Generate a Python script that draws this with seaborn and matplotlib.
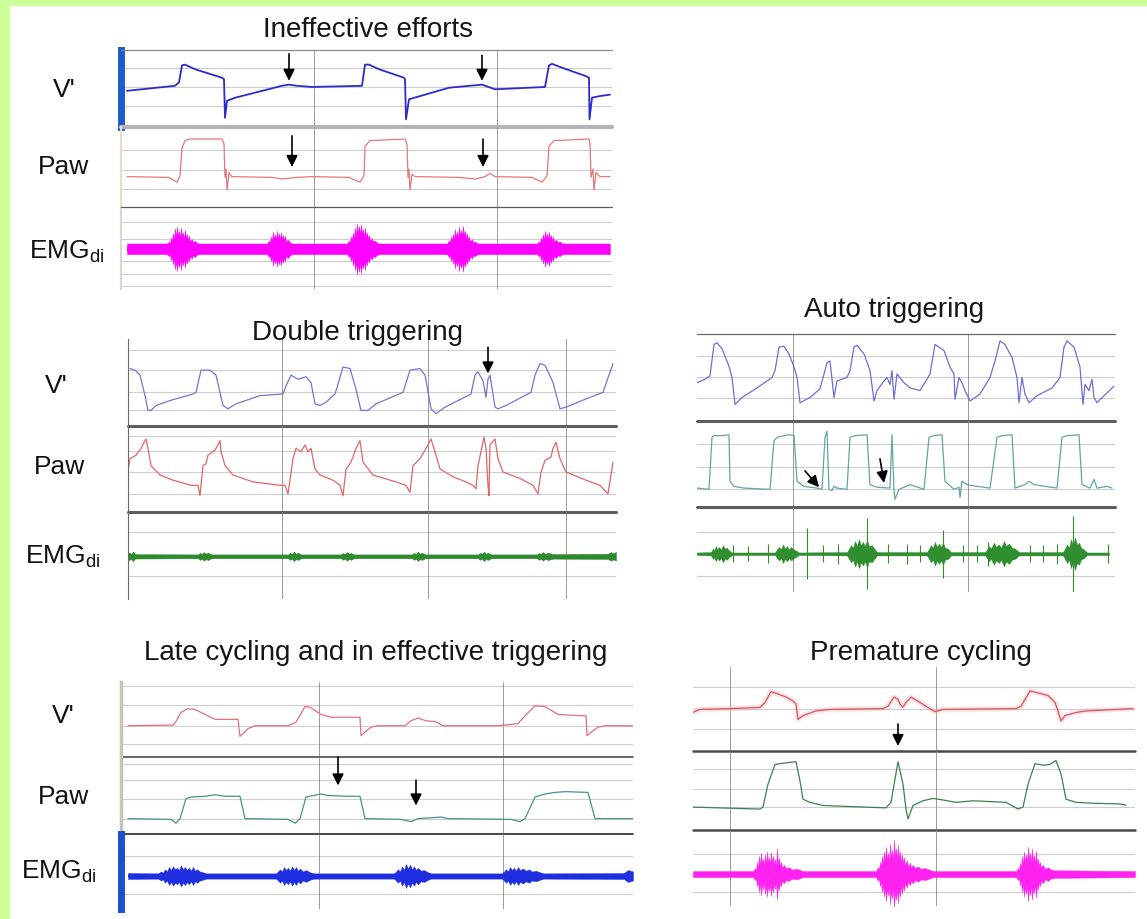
"""
Patient-ventilator asynchrony examples: flow (V'), airway pressure (Paw)
and diaphragm EMG traces for five asynchrony types.
Values were read off the reference tracings (t = samples across each panel,
y = strip units 0-10, EMG given as centre + envelope amplitude).
"""

import matplotlib
matplotlib.use("Agg")
import matplotlib.pyplot as plt
from matplotlib.patches import Rectangle
import pandas as pd
import seaborn as sns

W, H = 1147, 920

# ------------------------------------------------------------
# Panel 1 - Ineffective efforts
# ------------------------------------------------------------
P1_FLOW = [(0, 4.7), (48, 5.35), (52, 5.8), (55, 8.0), (58, 8.1), (68, 7.5), (95, 6.4),
           (97, 6.2), (98, 1.2), (100, 3.4), (108, 3.8), (155, 5.35), (162, 5.5),
           (170, 5.35), (185, 5.2), (235, 5.35), (238, 8.1), (242, 8.1), (252, 7.5),
           (277, 6.4), (278, 6.2), (279, 1.0), (282, 3.6), (322, 5.1), (355, 5.5),
           (368, 4.9), (418, 5.2), (422, 8.0), (425, 8.2), (435, 7.7), (458, 6.65),
           (462, 6.4), (462.5, 1.0), (465, 3.8), (472, 4.0), (483, 4.2)]
P1_PAW = [(0, 3.8), (42, 3.7), (50, 3.1), (53, 3.9), (55, 7.4), (58, 8.3), (63, 8.5),
          (95, 8.5), (97, 7.9), (98, 3.7), (99, 4.75), (100, 2.1), (102, 4.3), (105, 3.8),
          (145, 3.7), (155, 3.5), (170, 3.7), (185, 3.8), (222, 3.7), (233, 3.1),
          (237, 3.9), (238, 7.6), (243, 8.3), (278, 8.5), (280, 7.9), (281, 3.7),
          (282, 4.75), (283, 2.1), (285, 4.1), (288, 3.8), (332, 3.7), (348, 3.5),
          (358, 3.8), (363, 4.2), (368, 3.8), (405, 3.7), (415, 3.1), (420, 3.9),
          (422, 7.6), (427, 8.3), (462, 8.5), (463, 7.9), (464, 3.7), (466, 4.75),
          (467, 2.1), (469, 4.3), (473, 3.8), (483, 3.8)]
P1_EMG = [(0, 0.65), (40, 0.65), (42, 0.9), (43, 0.7), (44, 1.4), (45, 0.9), (46, 1.9),
          (47, 1.2), (48, 2.5), (49, 1.5), (50, 2.7), (51, 1.6), (52, 2.2), (53, 1.3),
          (54, 2.6), (55, 1.5), (56, 2.0), (57, 1.2), (58, 2.3), (59, 1.3), (60, 1.8),
          (61, 1.0), (62, 1.6), (63, 0.9), (65, 1.2), (66, 0.8), (68, 1.0), (70, 0.7),
          (72, 0.65), (140, 0.65), (142, 1.0), (143, 0.8), (144, 1.5), (145, 1.0),
          (146, 2.1), (147, 1.2), (148, 1.8), (149, 1.1), (150, 2.2), (151, 1.3),
          (152, 1.9), (153, 1.1), (154, 2.0), (155, 1.2), (156, 1.7), (157, 1.0),
          (158, 1.6), (159, 0.9), (161, 1.1), (163, 0.8), (165, 0.65), (220, 0.65),
          (222, 1.0), (223, 0.8), (224, 1.5), (225, 1.0), (226, 2.0), (227, 1.3),
          (228, 2.6), (229, 1.6), (230, 3.1), (231, 1.9), (232, 2.8), (233, 1.7),
          (234, 3.0), (235, 1.8), (236, 2.4), (237, 1.5), (238, 2.6), (239, 1.4),
          (240, 2.0), (241, 1.2), (242, 1.7), (243, 1.0), (245, 1.3), (246, 0.9),
          (248, 1.0), (250, 0.75), (252, 0.65), (320, 0.65), (322, 1.0), (323, 0.8),
          (324, 1.5), (325, 1.0), (326, 1.8), (327, 1.2), (328, 2.4), (329, 1.5),
          (330, 2.1), (331, 1.3), (332, 2.7), (333, 1.7), (334, 2.3), (335, 1.5),
          (336, 2.8), (337, 1.6), (338, 2.2), (339, 1.3), (340, 1.9), (341, 1.1),
          (342, 1.5), (343, 0.9), (345, 1.2), (346, 0.8), (348, 0.9), (350, 0.7),
          (352, 0.65), (410, 0.65), (412, 0.9), (413, 0.75), (414, 1.4), (415, 0.9),
          (416, 1.8), (417, 1.1), (418, 2.2), (419, 1.3), (420, 1.9), (421, 1.2),
          (422, 2.1), (423, 1.2), (424, 1.7), (425, 1.0), (426, 1.5), (427, 0.9),
          (429, 1.1), (431, 0.8), (433, 0.9), (435, 0.65), (483, 0.65)]
P1_ARROWS_FLOW = [(162, 9.5, 6.0), (355, 9.3, 6.0)]
P1_ARROWS_PAW = [(165, 8.9, 5.0), (356, 8.5, 5.0)]

# ------------------------------------------------------------
# Panel 2 - Double triggering
# ------------------------------------------------------------
P2_FLOW = [(2, 7.0), (7, 6.8), (12, 6.2), (17, 3.7), (20, 1.9), (23, 1.9), (28, 2.5),
           (42, 3.1), (65, 3.9), (68, 4.1), (73, 6.8), (82, 6.8), (88, 6.2), (95, 2.5),
           (100, 2.1), (108, 2.7), (132, 3.7), (155, 3.9), (158, 4.9), (163, 6.2),
           (170, 5.7), (178, 6.0), (183, 5.3), (187, 2.7), (192, 2.5), (198, 2.9),
           (207, 3.9), (210, 5.1), (215, 7.2), (222, 7.0), (228, 4.5), (233, 1.9),
           (240, 1.9), (248, 2.7), (275, 4.1), (282, 6.8), (292, 7.0), (297, 6.2),
           (303, 2.1), (308, 1.5), (317, 2.3), (343, 3.9), (347, 6.2), (350, 6.6),
           (355, 5.5), (358, 3.5), (360, 5.7), (362, 6.2), (367, 2.3), (370, 2.1),
           (378, 2.5), (403, 4.1), (407, 6.2), (412, 7.6), (417, 7.4), (425, 5.3),
           (432, 2.1), (438, 2.3), (458, 3.3), (475, 4.1), (485, 7.6)]
P2_PAW = [(0, 4.8), (2, 6.2), (8, 6.6), (13, 7.4), (18, 8.5), (20, 7.4), (23, 5.4),
          (32, 4.3), (45, 3.7), (63, 3.1), (70, 3.1), (72, 1.9), (75, 5.4), (78, 5.6),
          (80, 6.6), (87, 7.2), (92, 8.3), (93, 7.0), (97, 5.4), (105, 4.3), (125, 3.5),
          (152, 3.1), (157, 3.1), (160, 2.1), (165, 6.2), (168, 7.4), (173, 7.0),
          (177, 7.8), (180, 7.0), (183, 7.4), (187, 5.0), (192, 4.3), (205, 3.7),
          (212, 3.1), (215, 1.9), (218, 5.0), (222, 5.6), (225, 6.4), (228, 7.4),
          (232, 8.3), (235, 5.8), (245, 4.3), (268, 3.5), (278, 3.1), (282, 2.3),
          (285, 5.4), (292, 6.2), (300, 7.8), (303, 8.5), (307, 7.0), (312, 5.0),
          (325, 4.1), (338, 3.5), (345, 3.1), (348, 2.7), (350, 5.4), (353, 7.0),
          (356, 8.7), (358, 7.4), (360, 3.1), (361, 1.9), (362, 7.8), (367, 8.5),
          (370, 6.2), (375, 4.65), (392, 3.9), (405, 3.1), (410, 2.1), (413, 4.65),
          (417, 6.0), (423, 6.4), (425, 7.4), (428, 8.1), (432, 6.2), (438, 4.65),
          (458, 3.7), (472, 3.1), (480, 2.1), (485, 5.8)]
P2_EMG = [(0, 0.5), (3, 0.3), (5, 0.55), (7, 0.25), (70, 0.22), (72, 0.4), (74, 0.28),
          (76, 0.5), (78, 0.3), (80, 0.45), (82, 0.28), (84, 0.22), (160, 0.22),
          (162, 0.4), (164, 0.28), (166, 0.55), (168, 0.3), (170, 0.42), (173, 0.22),
          (213, 0.22), (215, 0.4), (217, 0.28), (219, 0.5), (221, 0.3), (223, 0.4),
          (226, 0.22), (284, 0.22), (286, 0.4), (288, 0.28), (290, 0.55), (292, 0.3),
          (294, 0.42), (297, 0.22), (350, 0.22), (352, 0.4), (354, 0.28), (356, 0.55),
          (358, 0.3), (360, 0.42), (363, 0.22), (409, 0.22), (411, 0.4), (413, 0.28),
          (415, 0.5), (417, 0.3), (420, 0.42), (425, 0.26), (480, 0.3), (483, 0.5),
          (485, 0.35), (488, 0.5)]
P2_ARROWS_FLOW = [(360, 9.6, 6.4)]

# ------------------------------------------------------------
# Panel 3 - Auto triggering
# ------------------------------------------------------------
P3_FLOW = [(0, 4.4), (8, 4.8), (13, 5.2), (17, 8.8), (20, 9.0), (25, 8.3), (32, 6.3),
           (35, 5.0), (38, 1.9), (45, 2.7), (60, 3.8), (75, 5.0), (78, 5.8), (82, 8.5),
           (87, 8.6), (92, 7.7), (97, 6.2), (100, 5.0), (103, 2.1), (113, 2.7),
           (123, 3.7), (127, 5.4), (130, 6.7), (133, 6.9), (137, 2.7), (140, 4.6),
           (150, 5.0), (153, 5.8), (157, 8.5), (160, 8.7), (167, 7.7), (173, 5.8),
           (177, 2.3), (180, 3.5), (187, 4.6), (190, 5.0), (193, 4.2), (195, 5.8),
           (197, 2.5), (200, 5.4), (207, 4.4), (213, 3.8), (223, 3.5), (233, 5.4),
           (238, 8.8), (247, 8.1), (253, 6.2), (257, 5.4), (258, 2.5), (262, 5.0),
           (265, 4.4), (268, 3.5), (273, 2.3), (283, 3.1), (293, 5.0), (298, 6.9),
           (303, 9.2), (308, 8.8), (315, 7.3), (320, 5.0), (322, 2.1), (325, 5.0),
           (328, 3.1), (332, 2.1), (340, 2.9), (355, 3.8), (363, 5.0), (367, 8.5),
           (370, 9.2), (377, 8.5), (383, 6.2), (386, 1.9), (388, 4.2), (392, 3.5),
           (395, 4.8), (397, 2.7), (400, 2.1), (407, 2.9), (417, 4.0)]
P3_PAW = [(0, 2.2), (12, 2.05), (15, 8.1), (17, 8.3), (25, 8.3), (32, 8.4), (33, 3.0),
          (37, 2.4), (47, 2.2), (73, 2.05), (77, 7.7), (80, 8.1), (87, 8.3), (92, 8.4),
          (97, 8.3), (100, 3.0), (107, 2.4), (120, 2.2), (125, 2.05), (128, 8.1),
          (130, 8.8), (132, 2.05), (135, 1.9), (137, 2.4), (140, 2.2), (150, 2.05),
          (153, 8.1), (158, 8.3), (170, 8.4), (173, 2.6), (180, 2.3), (193, 2.2),
          (195, 8.4), (197, 1.9), (198, 0.9), (202, 2.05), (213, 2.6), (227, 2.05),
          (232, 8.1), (237, 8.3), (245, 8.4), (248, 3.0), (257, 2.05), (262, 2.3),
          (263, 1.1), (265, 3.0), (270, 2.6), (280, 2.4), (293, 2.2), (300, 8.1),
          (305, 8.3), (315, 8.4), (318, 2.2), (328, 2.6), (332, 3.0), (337, 2.6),
          (360, 2.2), (365, 8.1), (370, 8.3), (382, 8.4), (385, 2.6), (393, 2.2),
          (397, 3.2), (400, 2.2), (410, 2.4), (415, 2.2)]
P3_EMG = [(0, 0.15), (14, 0.2), (16, 0.6), (17, 0.4), (19, 0.9), (20, 0.5), (22, 0.8),
          (24, 0.5), (26, 1.0), (28, 0.6), (30, 0.7), (32, 0.4), (35, 0.15), (78, 0.15),
          (80, 0.5), (82, 0.8), (84, 0.5), (86, 1.1), (88, 0.6), (90, 0.9), (92, 0.5),
          (94, 0.8), (97, 0.5), (100, 0.3), (102, 0.15), (150, 0.2), (152, 0.6),
          (154, 1.0), (156, 0.7), (158, 1.5), (160, 0.9), (162, 1.7), (164, 1.0),
          (166, 1.4), (168, 0.9), (170, 1.6), (172, 0.9), (175, 1.0), (178, 0.5),
          (180, 0.2), (230, 0.2), (232, 0.6), (234, 1.0), (236, 0.7), (238, 1.4),
          (240, 0.8), (242, 1.2), (244, 0.8), (246, 1.3), (248, 0.7), (251, 0.6),
          (254, 0.2), (288, 0.2), (290, 0.5), (292, 0.9), (294, 0.6), (297, 1.3),
          (299, 0.8), (302, 1.1), (304, 0.7), (307, 1.5), (309, 0.9), (312, 1.2),
          (315, 0.7), (318, 0.6), (322, 0.2), (366, 0.2), (368, 0.6), (370, 1.1),
          (372, 0.7), (374, 1.7), (376, 1.0), (378, 1.9), (380, 1.1), (382, 1.3),
          (384, 0.7), (387, 0.5), (390, 0.15), (412, 0.15)]
P3_SPIKES = [(36, 1.0), (51, 0.9), (71, 1.1), (110, 3.0), (126, 1.0), (141, 1.2),
             (170, 4.2), (191, 1.1), (210, 1.2), (223, 1.0), (246, 2.8), (266, 1.0),
             (280, 1.0), (291, 1.4), (333, 1.0), (346, 1.0), (360, 1.2), (376, 4.5),
             (411, 1.1)]
P3_ARROWS_PAW = [(108, 4.2, 122, 2.3), (183, 5.6, 187, 2.8)]

# ------------------------------------------------------------
# Panel 4 - Late cycling and ineffective triggering
# ------------------------------------------------------------
P4_FLOW = [(0, 4.4), (45, 4.5), (48, 5.0), (53, 6.3), (60, 6.8), (67, 6.7), (77, 6.0),
           (87, 5.3), (103, 5.3), (110, 5.3), (112, 2.9), (115, 3.3), (120, 4.0),
           (127, 4.4), (160, 4.4), (168, 4.9), (177, 7.1), (182, 7.0), (193, 6.0),
           (203, 5.6), (232, 5.6), (233, 3.0), (237, 3.5), (243, 4.2), (250, 4.4),
           (277, 4.4), (283, 5.1), (290, 5.5), (298, 5.1), (307, 5.0), (315, 4.4),
           (370, 4.4), (390, 4.7), (397, 5.8), (407, 7.2), (417, 7.1), (430, 6.0),
           (440, 5.9), (458, 5.8), (459, 3.0), (463, 3.5), (470, 4.2), (477, 4.4),
           (505, 4.4)]
P4_PAW = [(0, 2.0), (43, 1.9), (48, 1.4), (52, 2.0), (58, 4.6), (63, 4.8), (77, 4.9),
          (87, 5.1), (97, 4.9), (112, 4.9), (117, 2.0), (160, 1.9), (167, 1.4), (172, 2.0),
          (178, 4.8), (193, 5.2), (200, 5.0), (220, 4.9), (232, 4.9), (237, 2.0),
          (273, 1.9), (283, 1.6), (290, 2.0), (303, 2.1), (313, 2.2), (320, 2.0),
          (383, 1.9), (392, 1.6), (397, 2.0), (407, 4.8), (417, 5.2), (427, 5.4),
          (437, 5.5), (460, 5.4), (467, 2.0), (505, 2.0)]
P4_EMG = [(0, 0.4), (30, 0.35), (33, 0.6), (35, 0.45), (37, 0.9), (39, 0.6), (41, 1.2),
          (43, 0.8), (45, 1.3), (47, 0.9), (49, 1.1), (51, 0.8), (53, 1.4), (55, 0.9),
          (57, 1.2), (59, 0.8), (61, 1.1), (63, 0.7), (65, 1.2), (67, 0.7), (69, 0.9),
          (72, 0.6), (75, 0.5), (78, 0.35), (148, 0.35), (150, 0.6), (152, 0.9),
          (154, 0.6), (156, 1.2), (158, 0.8), (160, 1.1), (162, 0.7), (164, 1.3),
          (166, 0.8), (168, 1.2), (170, 0.7), (172, 1.0), (175, 0.6), (178, 0.8),
          (182, 0.5), (186, 0.35), (266, 0.35), (268, 0.6), (270, 0.9), (272, 0.6),
          (274, 1.3), (276, 0.8), (278, 1.6), (280, 1.0), (282, 1.5), (284, 0.9),
          (286, 1.3), (288, 0.8), (290, 1.1), (293, 0.7), (296, 0.8), (300, 0.5),
          (303, 0.35), (374, 0.35), (376, 0.6), (378, 0.9), (380, 0.6), (382, 1.2),
          (384, 0.8), (386, 1.1), (388, 0.7), (390, 1.2), (392, 0.8), (395, 1.0),
          (398, 0.7), (401, 0.9), (404, 0.6), (408, 0.7), (412, 0.5), (416, 0.35),
          (496, 0.4), (500, 0.8), (505, 0.6)]
P4_ARROWS_PAW = [(210, 10.0, 6.3), (288, 7.0, 3.7)]

# ------------------------------------------------------------
# Panel 5 - Premature cycling
# ------------------------------------------------------------
P5_FLOW = [(0, 5.0), (7, 5.4), (37, 5.5), (67, 5.65), (72, 6.3), (78, 7.7), (85, 7.4),
           (93, 7.0), (100, 6.5), (103, 6.1), (105, 4.1), (110, 4.6), (123, 5.2),
           (137, 5.4), (190, 5.5), (195, 5.8), (201, 7.0), (205, 6.7), (207, 6.1),
           (210, 5.7), (213, 6.3), (218, 7.0), (227, 6.3), (235, 5.65), (242, 5.1),
           (250, 5.4), (323, 5.5), (328, 5.8), (337, 7.8), (343, 7.6), (355, 7.2),
           (362, 6.3), (365, 5.2), (368, 3.9), (372, 4.6), (383, 5.0), (393, 5.2),
           (440, 5.5)]
P5_PAW = [(0, 2.9), (67, 2.65), (70, 2.9), (75, 5.8), (82, 8.3), (93, 8.5), (103, 8.65),
          (107, 6.2), (110, 3.9), (117, 3.5), (130, 3.1), (193, 2.8), (198, 3.5),
          (205, 8.65), (210, 5.8), (213, 2.65), (215, 1.4), (220, 3.1), (230, 3.7),
          (240, 4.0), (250, 3.8), (263, 3.5), (280, 3.7), (313, 3.5), (325, 2.65),
          (330, 2.9), (335, 5.8), (342, 8.4), (350, 8.2), (357, 8.3), (363, 8.8),
          (368, 7.1), (373, 3.9), (383, 3.5), (397, 3.4), (427, 3.3), (433, 3.15)]
P5_EMG = [(0, 0.4), (60, 0.4), (62, 0.8), (63, 0.5), (64, 1.6), (65, 0.9), (66, 2.4),
          (67, 1.2), (68, 2.8), (69, 1.5), (70, 2.0), (71, 1.1), (72, 2.6), (73, 1.4),
          (74, 3.0), (75, 1.6), (76, 2.2), (77, 1.3), (78, 2.9), (79, 1.5), (80, 2.4),
          (81, 1.2), (82, 2.0), (83, 1.0), (84, 3.4), (85, 1.4), (86, 2.1), (87, 1.1),
          (88, 1.6), (89, 0.9), (91, 1.2), (93, 0.8), (96, 0.9), (99, 0.6), (104, 0.7),
          (110, 0.4), (183, 0.4), (185, 0.9), (186, 0.6), (187, 1.6), (188, 1.0),
          (189, 2.4), (190, 1.4), (191, 3.0), (192, 1.8), (193, 3.6), (194, 2.0),
          (195, 2.8), (196, 1.6), (197, 4.0), (198, 2.2), (199, 3.2), (200, 1.8),
          (201, 4.6), (202, 2.4), (203, 3.4), (204, 1.9), (205, 3.9), (206, 2.0),
          (207, 3.0), (208, 1.6), (209, 2.6), (210, 1.4), (211, 2.2), (212, 1.2),
          (214, 1.8), (215, 1.0), (217, 1.5), (218, 0.9), (220, 1.2), (222, 0.8),
          (225, 1.0), (228, 0.7), (232, 0.8), (236, 0.6), (240, 0.4), (323, 0.4),
          (325, 0.8), (326, 0.5), (327, 1.5), (328, 0.9), (329, 2.4), (330, 1.3),
          (331, 3.0), (332, 1.7), (333, 2.6), (334, 1.5), (335, 3.6), (336, 1.9),
          (337, 2.8), (338, 1.6), (339, 3.4), (340, 1.8), (341, 2.5), (342, 1.4),
          (343, 3.1), (344, 1.5), (345, 2.0), (346, 1.1), (347, 1.6), (348, 0.9),
          (350, 1.2), (352, 0.7), (355, 0.9), (358, 0.6), (362, 0.5), (442, 0.4)]
P5_ARROWS_FLOW = [(205, 3.5, 0.65)]

TITLES = ["Ineffective efforts", "Double triggering", "Auto triggering",
          "Late cycling and in effective triggering", "Premature cycling"]
ROW_LABELS = ["V'", "Paw", "EMG$_{di}$"]


def pts(pairs, cols=("t", "y")):
    return pd.DataFrame(pairs, columns=list(cols))


def strip(fig, left, right, top, bottom, xlim, ylim=(0, 10)):
    ax = fig.add_axes([left / W, 1 - bottom / H, (right - left) / W, (bottom - top) / H])
    ax.set_xticks([])
    ax.set_yticks([])
    for s in ax.spines.values():
        s.set_visible(False)
    ax.patch.set_alpha(0)
    ax._lims = (xlim, ylim)
    return ax


def finish(ax, hgrid=(), vgrid=(), sep=None, top=None, bar=None):
    xlim, ylim = ax._lims
    for g in hgrid:
        ax.axhline(g, color="#cdcdcd", lw=0.8, zorder=0)
    for v in vgrid:
        ax.axvline(v, color="#8c8c8c", lw=0.6, zorder=0)
    if sep is not None:
        ax.axhline(ylim[0], color=sep[0], lw=sep[1], zorder=3, clip_on=False)
    if top is not None:
        ax.axhline(ylim[1], color=top[0], lw=top[1], zorder=3, clip_on=False)
    if bar is not None:
        ax.spines["left"].set_visible(True)
        ax.spines["left"].set_color(bar[0])
        ax.spines["left"].set_linewidth(bar[1])
    ax.set_xlim(*xlim)
    ax.set_ylim(*ylim)
    ax.set_xlabel("")
    ax.set_ylabel("")


def trace(ax, pairs, color, lw=0.9, shadow=None):
    df = pts(pairs)
    if shadow is not None:
        sns.lineplot(data=df, x="t", y="y", ax=ax, color=shadow, lw=4, alpha=0.35,
                     estimator=None, sort=False, legend=False)
    sns.lineplot(data=df, x="t", y="y", ax=ax, color=color, lw=lw,
                 estimator=None, sort=False, legend=False)


def emg(ax, pairs, centre, color, lw=0.8):
    df = pts(pairs, ("t", "a"))
    ax.fill_between(df["t"], centre - df["a"], centre + df["a"], color=color, lw=0.3)
    df["y"] = centre
    sns.lineplot(data=df, x="t", y="y", ax=ax, color=color, lw=lw, legend=False,
                 solid_capstyle="butt")


def arrows(ax, items):
    for it in items:
        if len(it) == 3:
            t, y0, y1 = it
            t0, t1 = t, t
        else:
            t0, y0, t1, y1 = it
        ax.annotate("", xy=(t1, y1), xytext=(t0, y0),
                    arrowprops=dict(arrowstyle="-|>", color="black", lw=1.2,
                                    mutation_scale=17, shrinkA=0, shrinkB=0),
                    annotation_clip=False, zorder=6)


def main():
    sns.set_theme(style="white")
    plt.rcParams["font.family"] = ["Liberation Sans", "DejaVu Sans"]
    plt.rcParams["mathtext.default"] = "regular"

    fig = plt.figure(figsize=(W / 100, H / 100), dpi=100)
    fig.patch.set_facecolor("white")
    fig.add_artist(Rectangle((0, 1 - 6 / H), 1, 6 / H, transform=fig.transFigure,
                             color="#ccff99", zorder=-5))
    fig.add_artist(Rectangle((0, 0), 9 / W, 1, transform=fig.transFigure,
                             color="#ccff99", zorder=-5))

    # ---------- panel 1
    xl = (-6, 485)
    a = strip(fig, 121, 612, 51, 128, xl)
    trace(a, P1_FLOW, "#2b2bd0", lw=1.3)
    arrows(a, P1_ARROWS_FLOW)
    finish(a, [7.65, 5.2, 2.7], [187, 370], sep=("#b4b4b4", 3), top=("#8a8a8a", 0.9),
           bar=("#1e5ccc", 5))
    a = strip(fig, 121, 612, 128, 208, xl)
    trace(a, P1_PAW, "#e87878")
    arrows(a, P1_ARROWS_PAW)
    finish(a, [7.1, 4.6, 2.3], [187, 370], bar=("#eadcc6", 1.5))
    a = strip(fig, 121, 612, 208, 290, xl)
    emg(a, P1_EMG, 4.9, "#ff00ff", lw=3)
    finish(a, [8.2, 6.1, 3.4, 1.8, 0.35], [187, 370], top=("#5a5a5a", 0.9),
           bar=("#ddd4cc", 1.5))

    # ---------- panel 2
    xl = (0, 488)
    v2 = [154, 300, 438]
    a = strip(fig, 128, 616, 340, 427, xl, (0, 10.6))
    trace(a, P2_FLOW, "#7474d4")
    arrows(a, P2_ARROWS_FLOW)
    finish(a, [9.2, 6.8, 4.1, 1.9], v2, sep=("#5e5e5e", 2.2), bar=("#6a6a6a", 0.8))
    a = strip(fig, 128, 616, 427, 513, xl)
    trace(a, P2_PAW, "#e26666")
    finish(a, [8.8, 7.1, 4.65, 2.1], v2, sep=("#5e5e5e", 2.2), bar=("#6a6a6a", 0.8))
    a = strip(fig, 128, 616, 513, 600, xl)
    emg(a, P2_EMG, 4.9, "#2d8a2d", lw=1.6)
    finish(a, [7.7, 2.6], v2, bar=("#6a6a6a", 0.8))

    # ---------- panel 3
    xl = (0, 418)
    v3 = [96, 271]
    a = strip(fig, 697, 1115, 335, 422, xl)
    trace(a, P3_FLOW, "#6d6ddb")
    finish(a, [7.5, 5.1, 2.7], v3, sep=("#5e5e5e", 2.2), top=("#6a6a6a", 0.9))
    a = strip(fig, 697, 1115, 422, 508, xl)
    trace(a, P3_PAW, "#63a5a5")
    arrows(a, P3_ARROWS_PAW)
    finish(a, [7.3, 4.65, 2.1], v3, sep=("#5e5e5e", 2.2))
    a = strip(fig, 697, 1115, 508, 593, xl)
    emg(a, P3_EMG, 4.5, "#2f8f2f", lw=1.2)
    sp = pts(P3_SPIKES, ("t", "a"))
    a.vlines(sp["t"], 4.5 - sp["a"], 4.5 + sp["a"], color="#2f8f2f", lw=0.8)
    finish(a, [7.06, 1.9], v3)

    # ---------- panel 4
    xl = (-7, 505)
    v4 = [191, 375]
    a = strip(fig, 121, 633, 683, 758, xl, (0, 10.56))
    trace(a, P4_FLOW, "#e46e7c")
    finish(a, [10, 7.3, 4.4, 1.9], v4, sep=("#3c3c3c", 1.1), bar=("#cbc3b5", 2.5))
    a = strip(fig, 121, 633, 758, 835, xl)
    trace(a, P4_PAW, "#4a9286")
    arrows(a, P4_ARROWS_PAW)
    finish(a, [9.1, 7.0, 4.6, 2.0], v4, sep=("#3c3c3c", 1.3), bar=("#cbc3b5", 2.5))
    a = strip(fig, 121, 633, 835, 910, xl)
    emg(a, P4_EMG, 4.4, "#1f2fe0", lw=1.4)
    finish(a, [7.1, 2.0], v4, bar=("#1a4fd0", 5))

    # ---------- panel 5
    xl = (0, 442)
    v5 = [37, 243]
    a = strip(fig, 693, 1135, 668, 752, xl, (0, 10.9))
    trace(a, P5_FLOW, "#d9505e", shadow="#f2b8bd")
    arrows(a, P5_ARROWS_FLOW)
    finish(a, [8.3, 5.5, 2.9], v5, sep=("#4a4a4a", 1.8))
    a = strip(fig, 693, 1135, 752, 831, xl)
    trace(a, P5_PAW, "#3d8050")
    finish(a, [7.7, 5.2, 2.9], v5, sep=("#4a4a4a", 1.8))
    a = strip(fig, 693, 1135, 831, 907, xl)
    emg(a, P5_EMG, 4.2, "#ff22f0", lw=2.2)
    finish(a, [6.8, 1.8], v5)

    # ---------- titles and row labels
    title_pos = [(368, 30), (358, 333), (894, 310), (376, 653), (921, 653)]
    for text, (x, y) in zip(TITLES, title_pos):
        fig.text(x / W, 1 - y / H, text, ha="center", va="center", fontsize=20,
                 color="#151515")
    label_pos = [
        [(64, 90), (64, 167), (67, 252)],
        [(56, 386), (59, 467), (63, 557)],
        [(63, 716), (63, 797), (59, 872)],
    ]
    for row in label_pos:
        for text, (x, y) in zip(ROW_LABELS, row):
            fig.text(x / W, 1 - y / H, text, ha="center", va="center", fontsize=19,
                     color="#111111")

    fig.savefig("out.png", dpi=100)
    plt.close(fig)


if __name__ == "__main__":
    main()
